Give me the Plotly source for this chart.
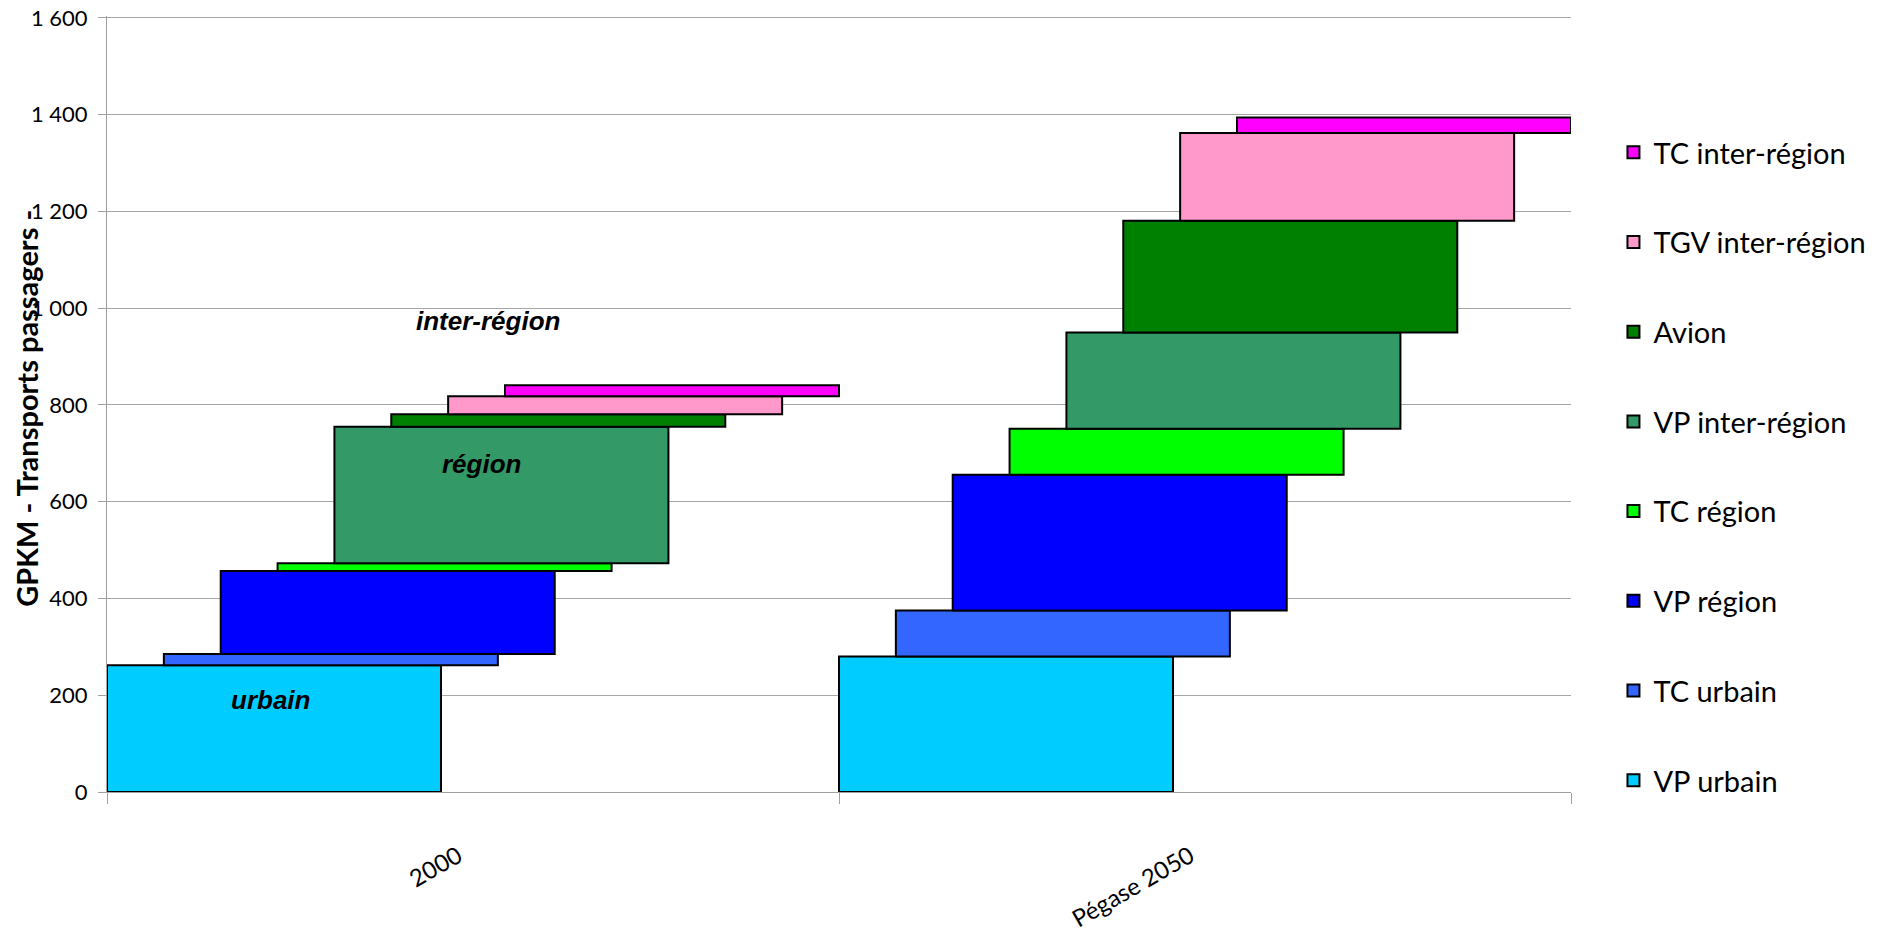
import numpy as np
import plotly.graph_objects as go

# ---- data ----
categories = ["2000", "Pégase 2050"]
series_names = ["VP urbain", "TC urbain", "VP région", "TC région",
                "VP inter-région", "Avion", "TGV inter-région", "TC inter-région"]
values_2000 = [262, 23, 172, 16, 282, 26, 37, 23]
values_2050 = [280, 95, 281, 95, 199, 231, 181, 32]
y_tick_values = [0, 200, 400, 600, 800, 1000, 1200, 1400, 1600]
y_tick_labels = ["0", "200", "400", "600", "800", "1 000", "1 200", "1 400", "1 600"]
zone_labels = ["urbain", "région", "inter-région"]
zone_label_pos_x = [-0.276, 0.012, 0.020]
zone_label_pos_y = [190, 678, 974]

# ---- style ----
colors = ["#00CCFF", "#3366FF", "#0000FF", "#00FF00",
          "#339966", "#008000", "#FF99CC", "#FF00FF"]
bar_w = 0.4563
step = (1 - bar_w) / (len(series_names) - 1)
FONT = "Lato, Carlito, Calibri, sans-serif"

vals = np.array([values_2000, values_2050])  # shape (2, 8)
bases = np.cumsum(vals, axis=1) - vals

fig = go.Figure()
n = len(series_names)
for i, name in enumerate(series_names):
    fig.add_trace(go.Bar(
        x=categories,
        y=vals[:, i],
        base=bases[:, i],
        name=name,
        legendgroup=name,
        legendrank=n - i,
        offset=-0.5 + i * step,
        width=bar_w,
        marker=dict(color=colors[i], line=dict(color="black", width=2)),
    ))

for txt, ax, ay in zip(zone_labels, zone_label_pos_x, zone_label_pos_y):
    fig.add_annotation(x=ax, y=ay, xref="x", yref="y", text=f"<b><i>{txt}</i></b>",
                       showarrow=False,
                       font=dict(family="Liberation Sans Narrow, Arial Narrow, Liberation Sans, sans-serif",
                                 size=26, color="black"))

fig.add_annotation(x=-0.068, y=0.495, xref="paper", yref="paper",
                   text="<b>GPKM - Transports passagers -</b>", textangle=-90,
                   showarrow=False,
                   font=dict(family=FONT, size=29, color="black"))

fig.update_layout(
    width=1883, height=936,
    margin=dict(l=107, r=312, t=16, b=144, autoexpand=False),
    barmode="overlay",
    plot_bgcolor="white", paper_bgcolor="white",
    font=dict(family=FONT, color="black"),
    legend=dict(
        x=1.029, xanchor="left", y=0.857, yanchor="top",
        traceorder="grouped", tracegroupgap=49,
        font=dict(family=FONT, size=29, color="black"),
        bgcolor="rgba(0,0,0,0)",
    ),
    xaxis=dict(
        type="category", tickson="boundaries", ticks="outside", ticklen=11,
        tickcolor="#a0a0a0", showline=True, linecolor="#a0a0a0", linewidth=1,
        showgrid=False, tickangle=-30, ticklabelstandoff=40, ticklabelshift=-15,
        tickfont=dict(family=FONT, size=24, color="black"),
        range=[-0.5, 1.5], automargin=False,
    ),
    yaxis=dict(
        range=[0, 1604], tickvals=y_tick_values, ticktext=y_tick_labels,
        ticks="outside", ticklen=8, tickcolor="#a0a0a0",
        showline=True, linecolor="#a0a0a0", linewidth=1,
        showgrid=True, gridcolor="#a6a6a6", gridwidth=1, zeroline=False,
        ticklabelstandoff=6, automargin=False,
        tickfont=dict(family=FONT, size=22, color="black"),
    ),
)

fig.write_html("out.html")
